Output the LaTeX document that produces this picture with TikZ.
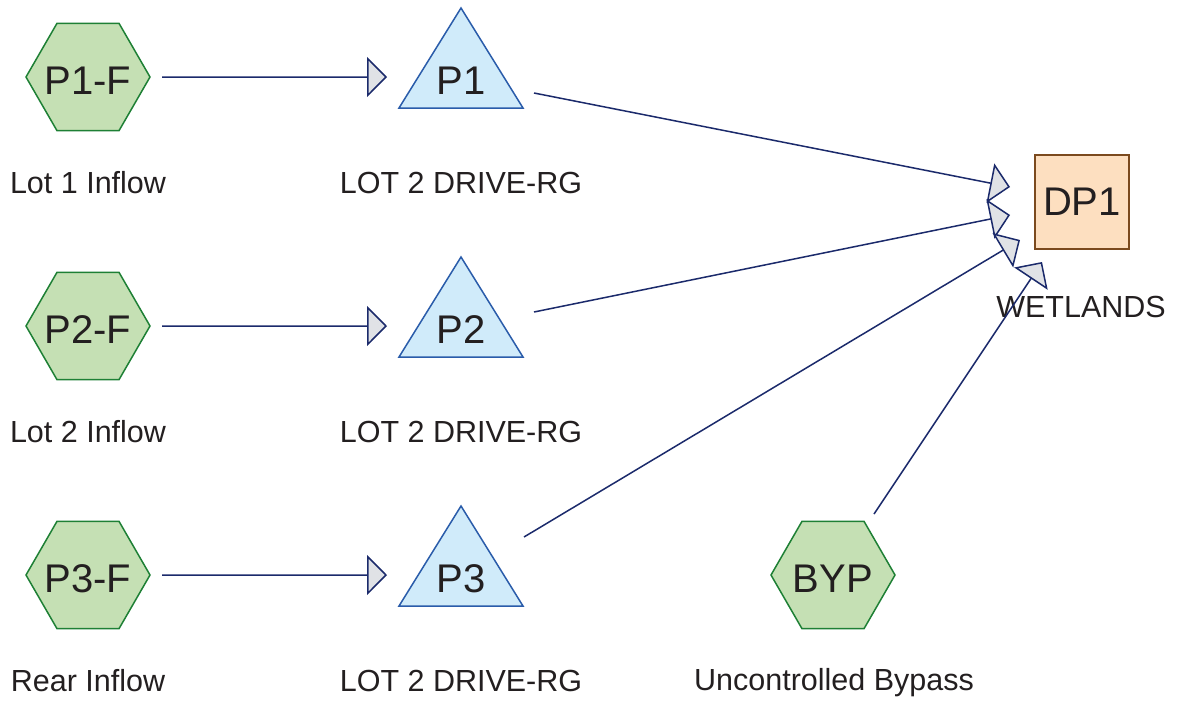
\documentclass[tikz,border=0pt]{standalone}
\usepackage{fontspec}
\setmainfont{Liberation Sans}
\usetikzlibrary{shapes.geometric,arrows.meta}
\definecolor{hexfill}{HTML}{C5E0B4}
\definecolor{hexdraw}{HTML}{1E8035}
\definecolor{trifill}{HTML}{D0EBFA}
\definecolor{tridraw}{HTML}{2A5CAA}
\definecolor{boxfill}{HTML}{FDDFC0}
\definecolor{boxdraw}{HTML}{7B4A1E}
\definecolor{linecol}{HTML}{1B2A6B}
\definecolor{headfill}{HTML}{E0E2E6}
\definecolor{txtcol}{HTML}{231F20}
\newcommand{\hextxt}[1]{\makebox[0pt]{\raisebox{-3pt}[28.6pt][0pt]{#1}}}
\tikzset{
  hexnode/.style={regular polygon, regular polygon sides=6, minimum size=124pt,
    inner sep=0pt, outer sep=0pt, fill=hexfill, draw=hexdraw, line width=1.5pt,
    text=txtcol, font=\fontsize{40}{48}\selectfont},
  tripath/.style={fill=trifill, draw=tridraw, line width=1.5pt, line join=miter},
  tritext/.style={inner sep=0pt, text=txtcol, font=\fontsize{40}{48}\selectfont, anchor=base},
  dpbox/.style={rectangle, minimum width=94pt, minimum height=94pt, inner sep=0pt,
    fill=boxfill, draw=boxdraw, line width=1.5pt, text=txtcol,
    font=\fontsize{40}{48}\selectfont},
  caption/.style={inner sep=0pt, anchor=base, text=txtcol, font=\fontsize{30.5}{36}\selectfont},
  flow/.style={draw=linecol, line width=1.5pt,
    -{Triangle[length=20pt, width=40pt, fill=headfill, line join=miter]}},
}
\begin{document}
\begin{tikzpicture}[x=1pt, y=-1pt]
\useasboundingbox (0,0) rectangle (1177,702);

% inflow hexagons
\node[hexnode] (p1f) at (88,77) {\hextxt{P1-F}};
\node[hexnode] (p2f) at (88,326) {\hextxt{P2-F}};
\node[hexnode] (p3f) at (88,575) {\hextxt{P3-F}};
\node[hexnode] (byp) at (833,575) {\hextxt{BYP}};

% triangles
\foreach \yy/\nm in {0/1, 249/2, 498/3} {
  \draw[tripath] (461,8+\yy) -- (523,108+\yy) -- (399,108+\yy) -- cycle;
}
\node[tritext] (p1) at (461,94) {P1};
\node[tritext] (p2) at (461,343) {P2};
\node[tritext] (p3) at (461,592) {P3};

% outlet box
\node[dpbox] (dp1) at (1082,202) {DP1};

% captions
\node[caption] (c1) at (88,193) {Lot 1 Inflow};
\node[caption] (c2) at (88,442) {Lot 2 Inflow};
\node[caption] (c3) at (88,691) {Rear Inflow};
\node[caption] (d1) at (461,193) {LOT 2 DRIVE-RG};
\node[caption] (d2) at (461,442) {LOT 2 DRIVE-RG};
\node[caption] (d3) at (461,691) {LOT 2 DRIVE-RG};
\node[caption] (cb) at (834,690) {Uncontrolled Bypass};
\node[caption] (cw) at (1081,317) {WETLANDS};

% connector end points
\coordinate (a1) at (387,77);
\coordinate (a2) at (387,326);
\coordinate (a3) at (387,575);
\coordinate (s1) at (534,93);
\coordinate (s2) at (534,312);
\coordinate (s3) at (524,537);
\coordinate (sb) at (874,514);
\coordinate (t1) at (1010,187);
\coordinate (t2) at (1010,215);
\coordinate (t3) at (1020,240);
\coordinate (tb) at (1042,262);

% connectors
\draw[flow] ([xshift=12pt]p1f.east) -- (a1);
\draw[flow] ([xshift=12pt]p2f.east) -- (a2);
\draw[flow] ([xshift=12pt]p3f.east) -- (a3);
\draw[flow] (s1) -- (t1);
\draw[flow] (s2) -- (t2);
\draw[flow] (s3) -- (t3);
\draw[flow] (sb) -- (tb);
\end{tikzpicture}
\end{document}
